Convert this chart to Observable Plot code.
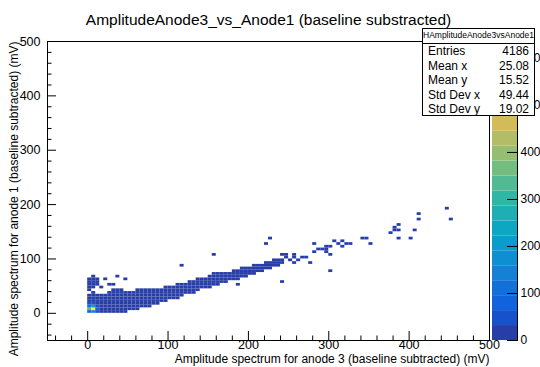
<!DOCTYPE html>
<html><head><meta charset="utf-8">
<script src="https://cdn.jsdelivr.net/npm/d3@7"></script>
<script src="https://cdn.jsdelivr.net/npm/@observablehq/plot@0.6"></script>
<style>
body{margin:0;background:#fff;font-family:"Liberation Sans",Arial,sans-serif;}
#wrap{position:relative;width:540px;height:367px;overflow:hidden;background:#fff;}
#wrap svg{position:absolute;top:0;}
#stats{position:absolute;left:422px;top:28px;width:113px;height:88px;border:1px solid #000;background:#fff;font-size:12px;color:#000;box-sizing:border-box;}
#stats .hd{height:14px;border-bottom:1px solid #000;font-size:8.5px;text-align:center;line-height:13px;}
#stats .row{position:absolute;left:5px;right:5px;height:15px;line-height:15px;}
#stats .row span{position:absolute;right:0;}
</style></head><body><div id="wrap"></div>
<script>
// ---------- data ----------
const titleText = "AmplitudeAnode3_vs_Anode1 (baseline substracted)";
const xLabel = "Amplitude spectrum for anode 3 (baseline subtracted) (mV)";
const yLabel = "Amplitude spectrum for anode 1 (baseline subtracted) (mV)";
const xTicks = [0, 100, 200, 300, 400, 500];
const yTicks = [0, 100, 200, 300, 400, 500];
const minorTicks = [-40,-20,20,40,60,80,120,140,160,180,220,240,260,280,320,340,360,380,420,440,460,480];
const zTicks = [0, 100, 200, 300, 400, 500, 600];
const binW = 5;
const zMax = 636;
const nLevels = 20;

// dense band: per x-bin, lowest and highest filled y-bin (lower edges), typical count
const bandX  = [0,5,10,15,20,25,30,35,40,45,50,55,60,65,70,75,80,85,90,95,100,105,110,115,120,125,130,135,140,145,150,155,160,165,170,175,180,185,190,195,200,205,210,215,220,225,230,235];
const bandLo = [0,0,0,0,0,0,0,0,0,0,5,5,5,10,10,10,15,15,20,20,25,25,30,30,35,35,40,40,45,45,45,50,50,55,55,60,60,60,65,65,70,70,75,75,80,80,85,85];
const bandHi = [30,30,30,30,30,35,35,35,35,35,35,35,40,40,40,40,40,40,40,45,45,45,50,50,50,55,55,60,60,60,65,65,65,70,70,70,75,75,80,80,80,85,85,85,90,90,95,95];
const bandN  = [12,12,12,10,10,10,9,9,8,8,7,7,6,6,6,5,5,5,5,4,4,4,4,3,3,3,3,3,3,3,3,2,2,2,2,2,2,2,2,2,2,2,1,1,1,1,1,1];

// hot spot near the origin
const hotX = [5, 0, 5, 0, 5, 0, 10, 10, 10, 0, 5];
const hotY = [5, 5, 10, 10, 0, 0, 5, 10, 0, 15, 15];
const hotN = [606, 330, 200, 120, 140, 80, 90, 60, 45, 40, 50];

// isolated bins (lower edges)
const isoX = [0,0,0,0,5,5,5,5,5,5,10,10,10,0,
              20,35,45,25,30,15,30,35,40,
              110,130,115,155,155,160,165,185,190,220,225,240,
              240,245,240,240,245,255,255,255,260,265,270,275,250,
              280,280,285,290,295,295,295,300,300,305,310,315,315,320,325,300,
              340,345,350,
              375,380,380,385,385,385,400,405,
              410,410,445,450];
const isoY = [45,50,55,60,35,45,50,55,60,65,50,55,60,40,
              60,65,60,50,50,45,40,40,40,
              25,35,85,105,70,70,70,50,80,125,135,55,
              105,100,95,90,105,105,100,90,95,100,100,90,95,
              125,110,115,115,120,115,110,105,120,130,125,130,120,125,125,75,
              135,135,125,
              145,155,150,160,150,135,135,150,
              180,170,190,170];

const statNames  = ["Entries", "Mean x", "Mean y", "Std Dev x", "Std Dev y"];
const statValues = ["4186", "25.08", "15.52", "49.44", "19.02"];
const statsTitle = "HAmplitudeAnode3vsAnode1";

// ---------- build cells ----------
const cellMap = new Map();
bandX.forEach((x, i) => {
  for (let y = bandLo[i]; y <= bandHi[i]; y += binW) cellMap.set(x + "," + y, {x, y, n: bandN[i]});
});
isoX.forEach((x, i) => { const y = isoY[i]; if (!cellMap.has(x + "," + y)) cellMap.set(x + "," + y, {x, y, n: 1}); });
hotX.forEach((x, i) => cellMap.set(x + "," + hotY[i], {x, y: hotY[i], n: hotN[i]}));
const cells = Array.from(cellMap.values());

// ROOT kBird palette, 20 contour levels
const birdStops = [0, 0.125, 0.25, 0.375, 0.5, 0.625, 0.75, 0.875, 1];
const birdR = [0.2082,0.0592,0.0780,0.0232,0.1802,0.5301,0.8186,0.9956,0.9764];
const birdG = [0.1664,0.3599,0.5041,0.6419,0.7178,0.7492,0.7328,0.7862,0.9832];
const birdB = [0.5293,0.8684,0.8385,0.7914,0.6425,0.4662,0.3499,0.1968,0.0539];
const bird = d3.scaleLinear().domain(birdStops)
  .range(birdStops.map((s, i) => d3.rgb(birdR[i]*255, birdG[i]*255, birdB[i]*255).toString()));
const levelColors = d3.range(nLevels).map(i => bird(Math.floor((i + 0.99) * 255 / nLevels) / 254));
const thresholds = d3.range(1, nLevels).map(i => i * zMax / nLevels);
const levels = d3.range(nLevels).map(i => ({lo: i * zMax / nLevels, hi: (i + 1) * zMax / nLevels, mid: (i + 0.5) * zMax / nLevels}));
const colorScale = {type: "threshold", domain: thresholds, range: levelColors};

const font = '"Liberation Sans", Arial, sans-serif';
const wrap = document.getElementById("wrap");

const main = Plot.plot({
  width: 540, height: 367,
  marginTop: 41, marginBottom: 27, marginLeft: 47, marginRight: 51,
  style: {fontFamily: font, background: "white", color: "black", overflow: "visible"},
  x: {domain: [-50, 500], label: null},
  y: {domain: [-50, 500], label: null},
  color: colorScale,
  marks: [
    Plot.rect(cells, {x1: "x", x2: d => d.x + binW, y1: "y", y2: d => d.y + binW, fill: "n"}),
    Plot.frame({stroke: "black", strokeWidth: 1}),
    Plot.axisX(xTicks, {tickSize: -9, tickFormat: () => "", label: null, stroke: "black"}),
    Plot.axisX(minorTicks, {tickSize: -4.5, tickFormat: () => "", label: null, stroke: "black"}),
    Plot.axisX(xTicks, {tickSize: 0, tickPadding: 0, label: null, fontSize: 12.5, fill: "black"}),
    Plot.axisY(yTicks, {tickSize: -9, tickFormat: () => "", label: null, stroke: "black"}),
    Plot.axisY(minorTicks, {tickSize: -4.5, tickFormat: () => "", label: null, stroke: "black"}),
    Plot.axisY(yTicks, {tickSize: 0, tickPadding: 7, label: null, fontSize: 12.5, fill: "black"}),
    Plot.text([titleText], {frameAnchor: "top", dy: -28, fontSize: 15.5, fill: "black"}),
    Plot.text([xLabel], {frameAnchor: "bottom-right", textAnchor: "end", dy: 22, fontSize: 12, fill: "black"}),
    Plot.text([yLabel], {frameAnchor: "top-left", textAnchor: "end", rotate: -90, dx: -38, fontSize: 12, fill: "black"})
  ]
});
main.style.left = "0px";
wrap.appendChild(main);

const bar = Plot.plot({
  width: 50, height: 367,
  marginTop: 41, marginBottom: 27, marginLeft: 2, marginRight: 23,
  style: {fontFamily: font, background: "transparent", color: "black", overflow: "visible"},
  x: {domain: [0, 1], axis: null},
  y: {domain: [0, zMax], label: null},
  color: colorScale,
  marks: [
    Plot.rect(levels, {y1: "lo", y2: "hi", fill: "mid"}),
    Plot.ruleX([1], {stroke: "black"}),
    Plot.axisY(zTicks, {anchor: "right", tickSize: -11, tickFormat: () => "", label: null, stroke: "black"}),
    Plot.axisY(zTicks, {anchor: "right", tickSize: 0, tickPadding: 3, label: null, fontSize: 12, fill: "black"})
  ]
});
bar.style.left = "490px";
wrap.appendChild(bar);

const st = document.createElement("div");
st.id = "stats";
st.innerHTML = `<div class="hd">${statsTitle}</div>` +
  statNames.map((n, i) => `<div class="row" style="top:${15 + i * 14.6}px">${n}<span>${statValues[i]}</span></div>`).join("");
wrap.appendChild(st);
</script></body></html>
